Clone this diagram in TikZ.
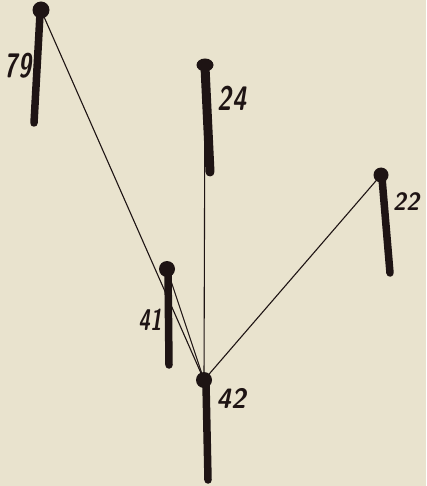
\documentclass[tikz,border=0pt]{standalone}
\usetikzlibrary{shapes.geometric}
\definecolor{paper}{RGB}{233,227,206}
\definecolor{pin}{RGB}{30,20,20}
\tikzset{
  head/.style={circle,fill=pin,inner sep=0pt,minimum size=#1},
  stem/.style={draw=pin,line width=7.5pt,line cap=round},
  thread/.style={draw=pin,line width=1.1pt},
  lbl/.style={text=pin,inner sep=0pt,font=\sffamily\itshape\bfseries\fontsize{34}{34}\selectfont}
}
\begin{document}
\begin{tikzpicture}[x=1pt,y=-1pt]
\fill[paper] (0,0) rectangle (426,486);
\useasboundingbox (0,0) rectangle (426,486);
% stems
\coordinate (e79) at (34,123);
\coordinate (e24) at (210,172);
\coordinate (e22) at (390,273);
\coordinate (e41) at (169,365);
\coordinate (e42) at (208,480);
\coordinate (s79) at (40,14);
\coordinate (s24) at (205,67);
\coordinate (s22) at (382,178);
\coordinate (s41) at (168,272);
\coordinate (s42) at (206,384);
\draw[stem] (s79) -- (e79);
\draw[stem,line width=9pt] (s24) -- (e24);
\draw[stem] (s22) -- (e22);
\draw[stem] (s41) -- (e41);
\draw[stem] (s42) -- (e42);
% heads
\node[head=17pt] (p79) at (41,10) {};
\node[ellipse,fill=pin,inner sep=0pt,minimum width=17pt,minimum height=13pt] (p24) at (205,65) {};
\node[head=15pt] (p22) at (381,175) {};
\node[head=16pt] (p41) at (167,269) {};
\node[head=16pt] (p42) at (204,380) {};
% threads
\draw[thread] (p79.center) -- (p42.center);
\draw[thread] (p41.center) -- (p42.center);
\draw[thread] (p24.center) -- (p42.center);
\draw[thread] (p22.center) -- (p42.center);
% labels
\node[lbl] (l79) at (18,66) {\scalebox{0.7}[1]{79}};
\node[lbl] (l24) at (232,98) {\scalebox{0.75}[1]{24}};
\node[lbl,font=\sffamily\itshape\bfseries\fontsize{25}{25}\selectfont] (l22) at (406,202) {\scalebox{0.95}[1]{22}};
\node[lbl,font=\sffamily\itshape\bfseries\fontsize{30}{30}\selectfont] (l41) at (150,320) {\scalebox{0.7}[1]{41}};
\node[lbl,font=\sffamily\itshape\bfseries\fontsize{28}{28}\selectfont] (l42) at (231,398) {\scalebox{0.95}[1]{42}};
\end{tikzpicture}
\end{document}
